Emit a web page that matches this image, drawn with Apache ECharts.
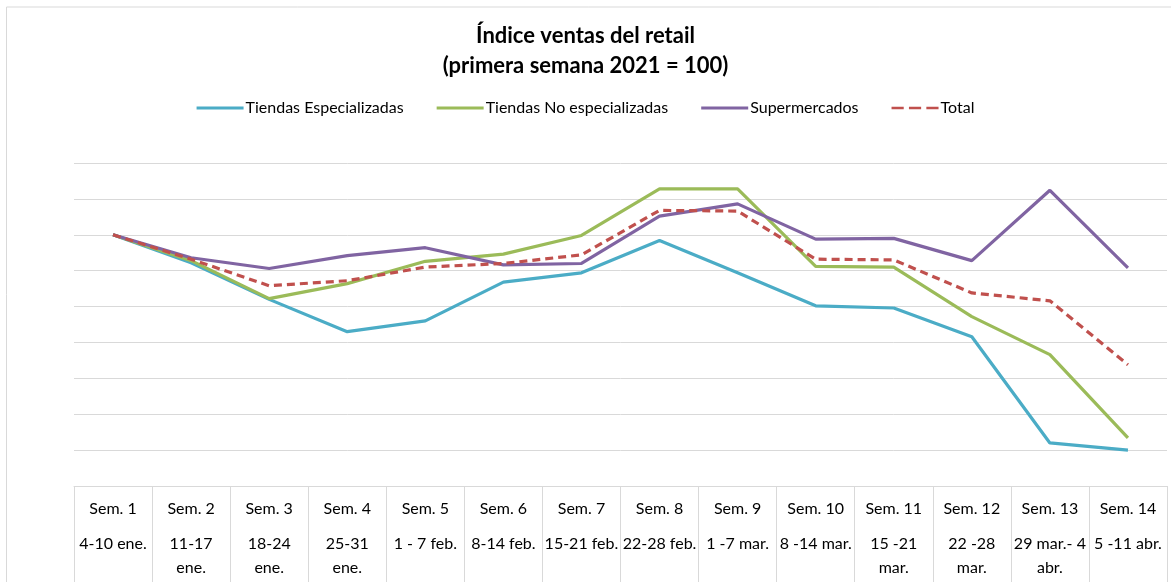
<!DOCTYPE html>
<html>
<head>
<meta charset="utf-8">
<script src="https://cdn.jsdelivr.net/npm/echarts@6/dist/echarts.min.js"></script>
<style>
html, body { margin: 0; padding: 0; background: #fff; }
#chart { width: 1171px; height: 582px; }
</style>
</head>
<body>
<div id="chart"></div>
<script>
// semanas y fechas (filas de la tabla bajo el eje)
var semanas = ['Sem. 1', 'Sem. 2', 'Sem. 3', 'Sem. 4', 'Sem. 5', 'Sem. 6', 'Sem. 7',
    'Sem. 8', 'Sem. 9', 'Sem. 10', 'Sem. 11', 'Sem. 12', 'Sem. 13', 'Sem. 14'];
var fechas = ['4-10 ene.', '11-17\nene.', '18-24\nene.', '25-31\nene.', '1 - 7 feb.', '8-14 feb.',
    '15-21 feb.', '22-28 feb.', '1 -7 mar.', '8 -14 mar.', '15 -21\nmar.', '22 -28\nmar.',
    '29 mar.- 4\nabr.', '5 -11 abr.'];

// valores (indice, primera semana = 100)
var especializadas = [100, 96.1, 91.0, 86.5, 88.0, 93.4, 94.7, 99.2, 94.7, 90.1, 89.8, 85.8, 71.0, 70.0];
var noEspecializadas = [100, 96.4, 91.1, 93.2, 96.3, 97.3, 99.9, 106.4, 106.4, 95.6, 95.5, 88.6, 83.3, 71.7];
var supermercados = [100, 96.8, 95.3, 97.1, 98.2, 95.8, 96.0, 102.6, 104.3, 99.4, 99.5, 96.4, 106.2, 95.4];
var total = [100, 96.6, 92.9, 93.6, 95.5, 96.0, 97.2, 103.4, 103.3, 96.6, 96.5, 91.9, 90.8, 81.9];

var fuente = 'Lato, "Open Sans", sans-serif';
var myChart = echarts.init(document.getElementById('chart'));

function serie(nombre, datos, color, tipo) {
    return {
        name: nombre,
        type: 'line',
        data: datos,
        symbol: 'none',
        lineStyle: { color: color, width: 3.2, type: tipo || 'solid' },
        itemStyle: { color: color }
    };
}

var option = {
    animation: false,
    backgroundColor: '#fff',
    title: {
        text: 'Índice ventas del retail\n(primera semana 2021 = 100)',
        left: 'center',
        top: 16,
        textStyle: {
            fontFamily: fuente,
            fontSize: 22,
            fontWeight: 'bold',
            color: '#000',
            lineHeight: 30
        }
    },
    legend: {
        top: 95,
        left: 'center',
        itemWidth: 47,
        itemHeight: 3,
        itemGap: 33,
        icon: 'rect',
        textStyle: { fontFamily: fuente, fontSize: 16, color: '#000', padding: [0, 0, 0, -3] },
        data: ['Tiendas Especializadas', 'Tiendas No especializadas', 'Supermercados',
            { name: 'Total', icon: 'path://M0,0H14V3H0Z M20,0H34V3H20Z M40,0H54V3H40Z' }]
    },
    grid: { left: 74, right: 4, top: 163, bottom: 96 },
    xAxis: {
        type: 'category',
        boundaryGap: true,
        data: semanas,
        axisLine: { lineStyle: { color: '#d9d9d9', width: 1 } },
        axisTick: { show: true, length: 100, lineStyle: { color: '#d9d9d9', width: 1 } },
        axisLabel: {
            interval: 0,
            margin: 0,
            formatter: function (value, idx) {
                var partes = fechas[idx].split('\n').map(function (p) { return '{b|' + p + '}'; });
                return '{a|' + value + '}\n' + partes.join('\n');
            },
            rich: {
                a: { fontFamily: fuente, fontSize: 16, color: '#000', lineHeight: 46 },
                b: { fontFamily: fuente, fontSize: 16, color: '#000', lineHeight: 24 }
            }
        }
    },
    yAxis: {
        type: 'value',
        min: 65,
        max: 110,
        interval: 5,
        axisLabel: { show: false },
        axisLine: { show: false },
        axisTick: { show: false },
        splitLine: { lineStyle: { color: '#d9d9d9', width: 1 } }
    },
    graphic: [
        { type: 'line', shape: { x1: 6.5, y1: 7, x2: 1171, y2: 7 }, style: { stroke: '#d9d9d9', lineWidth: 1 } },
        { type: 'line', shape: { x1: 6.5, y1: 7, x2: 6.5, y2: 582 }, style: { stroke: '#d9d9d9', lineWidth: 1 } }
    ],
    series: [
        serie('Tiendas Especializadas', especializadas, '#4BACC6'),
        serie('Tiendas No especializadas', noEspecializadas, '#9BBB59'),
        serie('Supermercados', supermercados, '#8064A2'),
        serie('Total', total, '#C0504D', [8, 5])
    ]
};

option && myChart.setOption(option);
window.addEventListener('resize', function () {
    myChart.resize();
});
</script>
</body>
</html>
